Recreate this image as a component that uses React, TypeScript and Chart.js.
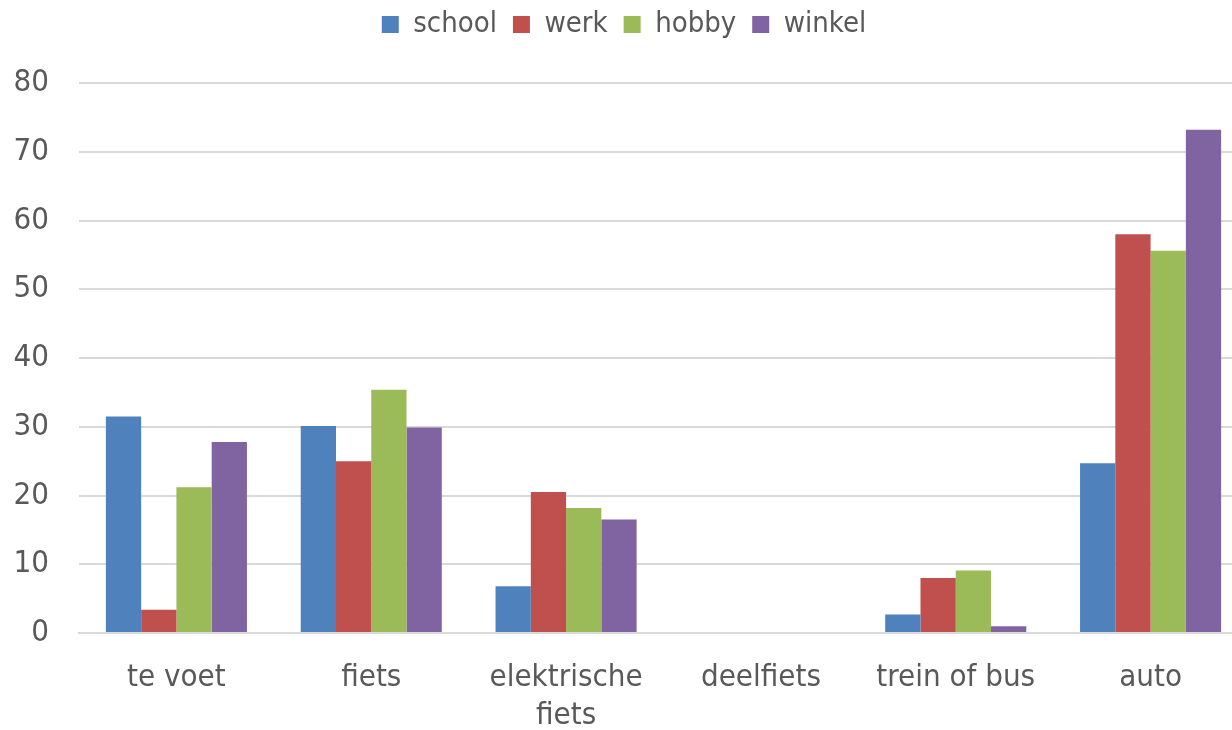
import React, { useEffect, useRef } from "react";
import { Chart, registerables } from "chart.js";

Chart.register(...registerables);

const categories: (string | string[])[] = ["te voet", "fiets", ["elektrische", "fiets"], "deelfiets", "trein of bus", "auto"];
const seriesNames = ["school", "werk", "hobby", "winkel"];
const school = [31.5, 30.1, 6.8, 0, 2.7, 24.7];
const werk = [3.4, 25.0, 20.5, 0, 8.0, 58.0];
const hobby = [21.2, 35.4, 18.2, 0, 9.1, 55.6];
const winkel = [27.8, 29.9, 16.5, 0, 1.0, 73.2];
const colors = ["#4F81BD", "#C0504D", "#9BBB59", "#8064A2"];
const yTicks = [0, 10, 20, 30, 40, 50, 60, 70, 80];

const FONT = "'DejaVu Sans Condensed', 'DejaVu Sans', sans-serif";
const TEXT = "#595959";

const legendHeightPlugin = {
  id: "legendHeight",
  beforeInit(chart: any) {
    const legend = chart.legend;
    if (!legend) return;
    const orig = legend.fit;
    legend.fit = function () {
      orig.call(this);
      this.height = 89;
    };
  },
};

export default function App() {
  const ref = useRef<HTMLCanvasElement | null>(null);
  useEffect(() => {
    document.body.style.margin = "0";
    const values = [school, werk, hobby, winkel];
    const chart = new Chart(ref.current!, {
      type: "bar",
      data: {
        labels: categories,
        datasets: seriesNames.map((n, i) => ({
          label: n,
          data: values[i],
          backgroundColor: colors[i],
          borderWidth: 0,
          categoryPercentage: 0.724,
          barPercentage: 1,
        })),
      },
      options: {
        animation: false,
        responsive: false,
        maintainAspectRatio: false,
        layout: { padding: { left: 0, right: 0, top: -6, bottom: 0 } },
        plugins: {
          tooltip: { enabled: false },
          legend: {
            position: "top",
            labels: {
              color: TEXT,
              font: { family: FONT, size: 29 },
              boxWidth: 17,
              boxHeight: 17,
              padding: 16,
            },
          },
        },
        scales: {
          x: {
            grid: { display: false },
            border: { display: true, color: "#d9d9d9", width: 2 },
            afterFit: (axis: any) => {
              axis.height = 97;
            },
            ticks: {
              color: TEXT,
              font: { family: FONT, size: 31, lineHeight: 1.22 },
              padding: 18,
              maxRotation: 0,
              autoSkip: false,
            },
          },
          y: {
            min: yTicks[0],
            max: yTicks[yTicks.length - 1],
            afterBuildTicks: (axis: any) => {
              axis.ticks = yTicks.map((v) => ({ value: v }));
            },
            afterFit: (axis: any) => {
              axis.width = 79;
            },
            grid: { color: "#d9d9d9", lineWidth: 2, drawTicks: false },
            border: { display: false },
            ticks: {
              color: TEXT,
              font: { family: FONT, size: 31 },
              padding: 30,
            },
          },
        },
      },
      plugins: [legendHeightPlugin],
    } as any);
    return () => chart.destroy();
  }, []);
  return (
    <div style={{ width: 1232, height: 730, overflow: "hidden" }}>
      <canvas ref={ref} width={1248} height={730} style={{ width: 1248, height: 730, display: "block" }} />
    </div>
  );
}
